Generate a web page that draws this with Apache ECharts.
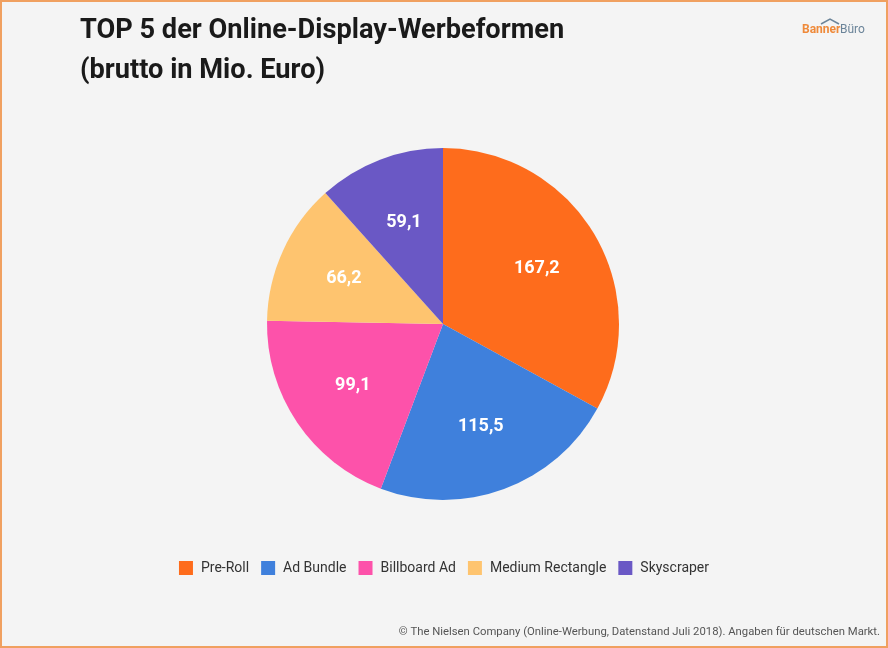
<!DOCTYPE html>
<html><head><meta charset="utf-8">
<script src="https://cdn.jsdelivr.net/npm/echarts@6/dist/echarts.min.js"></script>
<style>html,body{margin:0;padding:0;background:#f4f4f4;}#c{width:888px;height:648px;}</style>
</head><body><div id="c"></div>
<script>
const categories = ['Pre-Roll','Ad Bundle','Billboard Ad','Medium Rectangle','Skyscraper'];
const values = [167.2,115.5,99.1,66.2,59.1];
const colors = ['#fe6c1c','#3f80dc','#fd52aa','#fec46f','#6a58c5'];
const titleLines = ['TOP 5 der Online-Display-Werbeformen','(brutto in Mio. Euro)'];
const footer = '© The Nielsen Company (Online-Werbung, Datenstand Juli 2018). Angaben für deutschen Markt.';

const pieData = categories.map((c,i)=>({name:c,value:values[i]}));
const chart = echarts.init(document.getElementById('c'));
chart.setOption({
  backgroundColor:'#f4f4f4',
  animation:false,
  color: colors,
  title:{text:titleLines.join('\n'), left:75, top:6,
    textStyle:{fontFamily:'Roboto', fontWeight:'bold', fontSize:27.2, color:'#1a1a1a', lineHeight:40}},
  legend:{top:556, left:'center', itemWidth:14, itemHeight:14, itemGap:12, icon:'rect',
    textStyle:{fontFamily:'Roboto', fontSize:14, color:'#333', padding:[0,0,0,3]}, data:categories},
  series:[
    {type:'pie', center:[443,324], radius:[0,176], startAngle:90, clockwise:true,
      label:{show:false}, labelLine:{show:false},
      itemStyle:{borderWidth:0}, emphasis:{disabled:true},
      data:pieData},
    {type:'pie', center:[443,324], radius:[0,212], startAngle:90, clockwise:true, silent:true,
      label:{position:'inner', formatter:p=>String(p.value).replace('.',','), color:'#fff',
        fontFamily:'Roboto', fontWeight:'bold', fontSize:18},
      labelLine:{show:false},
      itemStyle:{color:'rgba(0,0,0,0)', borderWidth:0}, emphasis:{disabled:true},
      data:pieData}
  ],
  graphic:[
    {type:'rect', shape:{x:1,y:1,width:886,height:646}, style:{fill:'none', stroke:'#f0a060', lineWidth:2}},
    {type:'text', right:8, top:627, style:{text:footer, font:'11.3px Roboto', fill:'#555'}},
    {type:'text', left:802, top:24, style:{text:'Banner', font:'bold 12px Roboto', fill:'#ef8a3a'}},
    {type:'text', left:840, top:24, style:{text:'Büro', font:'12px Roboto', fill:'#6b8499'}},
    {type:'polyline', shape:{points:[[821,24],[830,19],[839,24]]}, style:{stroke:'#6b8499', lineWidth:1.5, fill:'none'}}
  ]
});
</script></body></html>
